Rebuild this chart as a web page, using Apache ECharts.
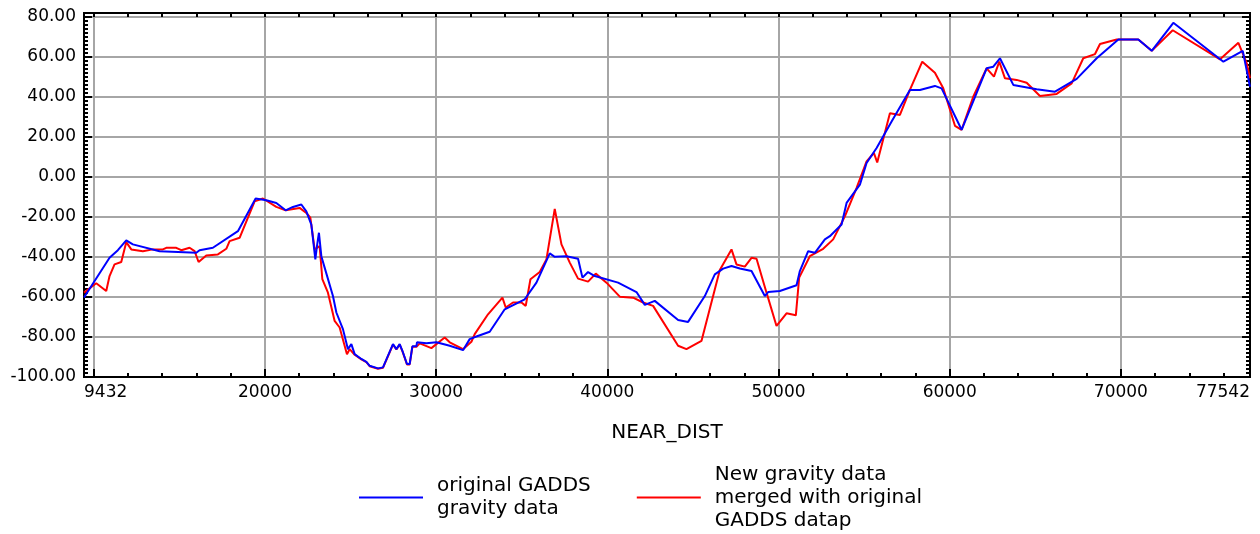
<!DOCTYPE html>
<html>
<head>
<meta charset="utf-8">
<script src="https://cdn.jsdelivr.net/npm/echarts@6/dist/echarts.min.js"></script>
<style>
html,body{margin:0;padding:0;background:#fff;}
#chart{width:1260px;height:534px;}
</style>
</head>
<body>
<div id="chart"></div>
<script>
// ---- data ----
const seriesNames = ['original GADDS\ngravity data', 'New gravity data\nmerged with original\nGADDS datap'];
const xLabelValues = [9432, 20000, 30000, 40000, 50000, 60000, 70000, 77542];
const xMajorTicks = [10000, 20000, 30000, 40000, 50000, 60000, 70000];
const xMinorTicks = [10000,12000,14000,16000,18000,20000,22000,24000,26000,28000,30000,32000,34000,36000,38000,40000,42000,44000,46000,48000,50000,52000,54000,56000,58000,60000,62000,64000,66000,68000,70000,72000,74000,76000];

const blueX = [9432,10924,11410,11900,12286,13846,15990,16184,16960,18422,19457,20080,20666,21210,21636,22127,22419,22712,22945,23040,23156,23296,23489,23974,24173,24558,24850,25049,25242,25633,25926,26119,26604,26896,27480,27679,27872,28030,28298,28456,28614,28848,28883,29433,30017,30795,31572,31962,32354,33131,34008,35177,35860,36638,36930,37614,38292,38549,38876,39268,40630,41704,42190,42774,44136,44720,45696,46280,46767,47254,47740,48424,49201,49396,50079,51054,51248,51733,52125,52709,53001,53685,53977,54755,55145,55730,56607,57676,58261,59137,59527,60696,62158,62547,62936,63716,65080,66151,67418,68587,69850,71018,71801,73063,75987,77120,77542];
const blueY = [-60.3,-40.5,-36.7,-31.8,-33.8,-37.2,-38.0,-36.7,-35.5,-27.2,-10.9,-11.8,-13.1,-16.8,-15.1,-13.9,-17.3,-23.9,-41.3,-34.7,-28.0,-39.7,-45.4,-59.6,-67.8,-76.1,-86.1,-83.6,-88.6,-91.0,-92.4,-94.4,-95.7,-95.2,-83.6,-86.1,-83.6,-86.9,-93.5,-93.5,-84.7,-84.7,-82.7,-83.1,-82.7,-84.4,-86.6,-81.1,-79.8,-77.4,-66.2,-61.2,-52.9,-38.3,-40.0,-39.7,-41.0,-50.4,-47.6,-49.6,-52.9,-57.6,-64.0,-62.0,-71.5,-72.5,-59.6,-48.8,-45.9,-44.6,-45.8,-47.1,-59.6,-57.6,-57.1,-54.2,-47.1,-37.2,-38.0,-31.3,-29.7,-23.9,-13.1,-4.0,6.8,14.3,27.5,43.3,43.3,45.3,44.1,23.4,54.1,54.9,59.1,45.8,43.6,42.4,48.8,59.1,68.5,68.5,62.8,76.8,57.4,62.8,44.9];

const redX = [9432,10147,10731,10924,11216,11608,11900,12193,12870,13455,14039,14238,14822,15114,15600,15892,16125,16575,17253,17744,17937,18521,19398,19883,20666,21210,22028,22419,22653,22904,23196,23354,23682,24073,24365,24792,24950,25242,25633,25926,26119,26604,26896,27480,27679,27872,28030,28298,28456,28614,28848,29043,29724,30501,30795,31572,32062,32255,33032,33874,34067,34493,34984,35235,35510,36053,36444,36930,37322,37807,38292,38876,39326,39952,40729,41508,42093,42675,44136,44623,45500,46573,47254,47546,48034,48424,48717,49301,49884,50469,51013,51208,51831,52610,53194,53878,54562,55145,55573,55766,56508,57093,57676,58398,59137,59624,60308,60696,61375,62158,62586,62896,63229,63911,64496,65273,66248,67125,67803,68488,68780,69756,71018,71801,73028,75793,76864,77355,77542];
const redY = [-57.9,-53.2,-57.1,-49.6,-43.8,-42.6,-32.7,-36.3,-37.2,-36.3,-36.3,-35.5,-35.5,-36.7,-35.5,-37.2,-42.6,-39.3,-38.8,-36.0,-32.2,-30.5,-12.3,-10.9,-15.1,-16.8,-15.6,-18.1,-20.5,-36.3,-34.7,-51.2,-57.9,-72.0,-75.3,-88.6,-86.1,-88.9,-91.2,-92.6,-94.6,-95.9,-95.4,-83.8,-86.3,-83.8,-87.1,-93.7,-93.7,-84.9,-84.9,-83.2,-85.6,-80.3,-82.7,-86.1,-82.4,-78.6,-68.7,-60.4,-65.3,-62.8,-62.8,-64.5,-51.2,-47.6,-41.3,-16.1,-33.8,-42.9,-50.9,-52.4,-48.4,-52.9,-59.9,-60.4,-62.8,-64.5,-84.4,-86.1,-82.0,-46.6,-36.3,-43.8,-44.9,-40.5,-41.0,-57.9,-74.5,-68.2,-69.2,-50.4,-39.7,-36.0,-31.3,-19.8,-5.6,7.6,11.8,7.1,31.7,30.8,43.3,57.4,51.9,44.1,25.4,23.4,39.9,54.1,49.9,57.4,49.1,48.3,46.9,40.3,41.3,46.6,59.1,61.2,66.2,68.5,68.5,62.8,73.1,58.6,66.8,56.6,49.1];

const X_MIN = 9432, X_MAX = 77542;
const Y_MIN = -100, Y_MAX = 81.7, Y_STEP = 20;

// ---- chart ----
const FONT = 'DejaVu Sans';
const zip = (xs, ys) => xs.map((x, i) => [x, ys[i]]);
const chart = echarts.init(document.getElementById('chart'), null, {renderer: 'canvas'});

const gridLine = {show: true, lineStyle: {color: '#a6a6a6', width: 2}};
const yLabelFmt = v => (Math.abs(v % Y_STEP) < 1e-6 ? v.toFixed(2) : '');

chart.setOption({
  animation: false,
  backgroundColor: '#fff',
  grid: {left: 84, right: 10, top: 13, bottom: 157, show: true, borderColor: '#000', borderWidth: 2, containLabel: false},
  legend: {
    left: 354, top: 458,
    icon: 'rect',
    itemWidth: 64, itemHeight: 2, itemGap: 46,
    data: seriesNames,
    textStyle: {fontFamily: FONT, fontSize: 20, color: '#000', lineHeight: 23, padding: [0, 0, 0, 9]}
  },
  xAxis: [
    {
      type: 'value', min: X_MIN, max: X_MAX, position: 'bottom',
      name: 'NEAR_DIST', nameLocation: 'middle', nameGap: 46,
      nameTextStyle: {fontFamily: FONT, fontSize: 20, color: '#000'},
      axisLine: {show: true, onZero: false, lineStyle: {color: '#000', width: 2}},
      axisTick: {show: true, inside: true, length: 4, customValues: xMinorTicks, lineStyle: {color: '#000', width: 2}},
      axisLabel: {show: true, customValues: xLabelValues, formatter: v => String(v), margin: 7, fontFamily: FONT, fontSize: 17, color: '#000',
                  alignMinLabel: 'left', alignMaxLabel: 'right', showMinLabel: true, showMaxLabel: true},
      splitLine: {show: false}
    },
    {
      type: 'value', min: X_MIN, max: X_MAX, position: 'bottom',
      axisLine: {show: false, onZero: false},
      axisTick: {show: true, inside: true, length: 8, customValues: xMajorTicks, lineStyle: {color: '#000', width: 2}},
      axisLabel: {show: false},
      splitLine: gridLine
    },
    {
      type: 'value', min: X_MIN, max: X_MAX, position: 'top',
      axisLine: {show: true, onZero: false, lineStyle: {color: '#000', width: 2}},
      axisTick: {show: true, inside: true, length: 4, customValues: xMinorTicks, lineStyle: {color: '#000', width: 2}},
      axisLabel: {show: false},
      splitLine: {show: false}
    }
  ],
  yAxis: [
    {
      type: 'value', min: Y_MIN, max: Y_MAX, interval: Y_STEP, position: 'left',
      axisLine: {show: true, onZero: false, lineStyle: {color: '#000', width: 2}},
      axisTick: {show: true, inside: true, length: 8, lineStyle: {color: '#000', width: 2}},
      minorTick: {show: true, splitNumber: 10, length: 4, lineStyle: {color: '#000', width: 2}},
      axisLabel: {formatter: yLabelFmt, showMaxLabel: false, margin: 8, fontFamily: FONT, fontSize: 17, color: '#000'},
      splitLine: gridLine
    },
    {
      type: 'value', min: Y_MIN, max: Y_MAX, interval: Y_STEP, position: 'right',
      axisLine: {show: true, onZero: false, lineStyle: {color: '#000', width: 2}},
      axisTick: {show: true, inside: true, length: 8, lineStyle: {color: '#000', width: 2}},
      minorTick: {show: true, splitNumber: 10, length: 4, lineStyle: {color: '#000', width: 2}},
      axisLabel: {show: false},
      splitLine: {show: false}
    }
  ],
  series: [
    {
      name: seriesNames[0], type: 'line', xAxisIndex: 0, yAxisIndex: 0,
      data: zip(blueX, blueY), symbol: 'none', showSymbol: false, z: 4,
      lineStyle: {color: '#0000ff', width: 2}, itemStyle: {color: '#0000ff'}
    },
    {
      name: seriesNames[1], type: 'line', xAxisIndex: 0, yAxisIndex: 0,
      data: zip(redX, redY), symbol: 'none', showSymbol: false, z: 3,
      lineStyle: {color: '#ff0000', width: 2}, itemStyle: {color: '#ff0000'}
    }
  ]
});
</script>
</body>
</html>
